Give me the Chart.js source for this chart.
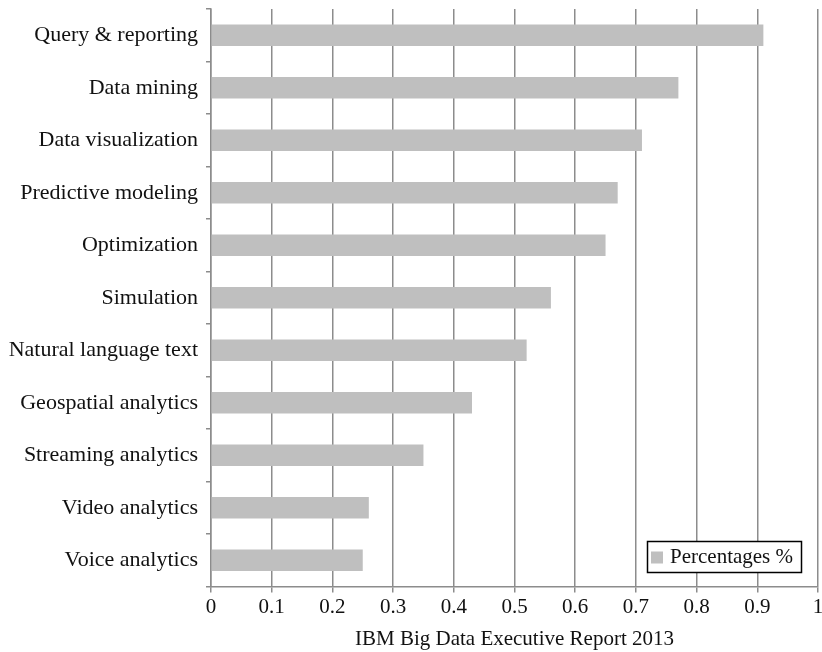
<!DOCTYPE html>
<html>
<head>
<meta charset="utf-8">
<script src="https://cdn.jsdelivr.net/npm/chart.js@4.4.1/dist/chart.umd.min.js"></script>
<style>
  html, body { margin: 0; padding: 0; background: #fff; }
  #wrap { width: 822px; height: 652px; position: relative; }
</style>
</head>
<body>
<div id="wrap"><canvas id="c"></canvas></div>
<script>
// Analytics techniques in use (share of respondents)
const categories = [
  'Query & reporting',
  'Data mining',
  'Data visualization',
  'Predictive modeling',
  'Optimization',
  'Simulation',
  'Natural language text',
  'Geospatial analytics',
  'Streaming analytics',
  'Video analytics',
  'Voice analytics'
];
const percentages = [0.91, 0.77, 0.71, 0.67, 0.65, 0.56, 0.52, 0.43, 0.35, 0.26, 0.25];
const xTicks = [0, 0.1, 0.2, 0.3, 0.4, 0.5, 0.6, 0.7, 0.8, 0.9, 1];
const seriesName = 'Percentages %';
const xTitle = 'IBM Big Data Executive Report 2013';

const FONT = '"Liberation Serif", "Times New Roman", serif';
const BAR = '#bfbfbf';
const GRID = '#8c8c8c';

// Legend box drawn inside the plot, lower-right corner
const insideLegend = {
  id: 'insideLegend',
  afterDraw(chart) {
    const { ctx, chartArea } = chart;
    ctx.save();
    ctx.font = '21px ' + FONT;
    const tw = ctx.measureText(seriesName).width;
    const sw = 12, gap = 7, padL = 4, padR = 8;
    const w = Math.round(padL + sw + gap + tw + padR);
    const h = 31;
    const x = Math.round(chartArea.right - 17 - w);
    const y = Math.round(chartArea.bottom - 15 - h);
    ctx.fillStyle = '#fff';
    ctx.fillRect(x, y, w, h);
    ctx.strokeStyle = '#000';
    ctx.lineWidth = 1.5;
    ctx.strokeRect(x + 0.5, y + 0.5, w, h);
    ctx.fillStyle = BAR;
    ctx.fillRect(x + padL, y + h / 2 - sw / 2 + 1, sw, sw);
    ctx.fillStyle = '#111';
    ctx.textBaseline = 'middle';
    ctx.fillText(seriesName, x + padL + sw + gap, y + h / 2 + 1);
    ctx.restore();
  }
};

new Chart(document.getElementById('c'), {
  type: 'bar',
  data: {
    labels: categories,
    datasets: [{
      label: seriesName,
      data: percentages,
      backgroundColor: BAR,
      borderWidth: 0,
      categoryPercentage: 0.82,
      barPercentage: 0.5
    }]
  },
  options: {
    indexAxis: 'y',
    responsive: true,
    maintainAspectRatio: false,
    animation: false,
    layout: { padding: { top: 9, right: 0, left: 4, bottom: 0 } },
    plugins: {
      legend: { display: false },
      tooltip: { enabled: false }
    },
    scales: {
      x: {
        type: 'linear',
        min: 0,
        max: 1,
        afterBuildTicks(scale) { scale.ticks = xTicks.map(v => ({ value: v })); },
        afterFit(scale) { scale.paddingRight = 4; },
        grid: {
          color: GRID,
          lineWidth: 1.5,
          drawOnChartArea: true,
          drawTicks: true,
          tickLength: 6
        },
        border: { color: GRID, width: 1.5 },
        ticks: {
          color: '#111',
          font: { family: FONT, size: 21 },
          padding: 2,
          callback: v => String(v)
        },
        title: {
          display: true,
          text: xTitle,
          color: '#111',
          font: { family: FONT, size: 21 },
          padding: { top: 5, bottom: 0 }
        }
      },
      y: {
        type: 'category',
        offset: true,
        afterFit(scale) {
          scale.width = 207;
          scale.paddingTop = 0;
          scale.paddingBottom = 0;
        },
        grid: {
          offset: true,
          drawOnChartArea: false,
          drawTicks: true,
          tickLength: 5,
          color: GRID,
          lineWidth: 1.5
        },
        border: { color: GRID, width: 1.5 },
        ticks: {
          color: '#111',
          font: { family: FONT, size: 22 },
          padding: 8
        }
      }
    }
  },
  plugins: [insideLegend]
});
</script>
</body>
</html>
